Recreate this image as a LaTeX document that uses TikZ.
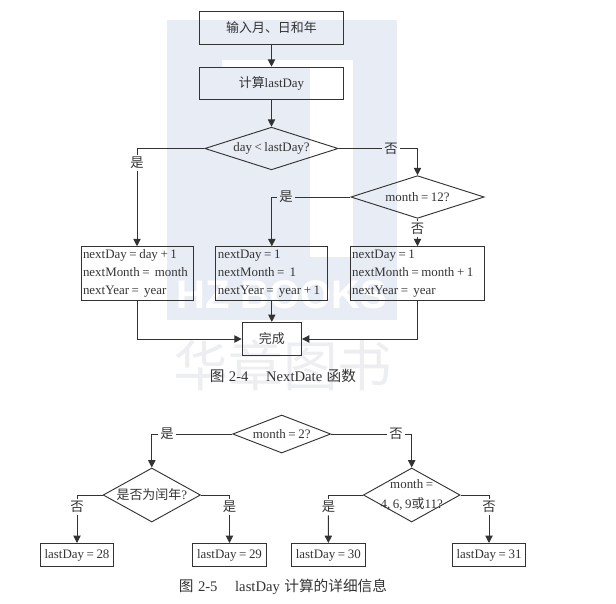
\documentclass[tikz,border=0pt]{standalone}
\usepackage{fontspec}
\setmainfont[WordSpace=0.8]{Liberation Serif}
\setsansfont{Liberation Sans}
\newfontfamily\cjk{Noto Sans CJK SC}
\usetikzlibrary{shapes.geometric,arrows.meta}

\definecolor{inkgray}{HTML}{333333}
\definecolor{markblue}{HTML}{E8ECF5}
\definecolor{markgray}{HTML}{ECEEF1}

\tikzset{
  flowbox/.style={draw=inkgray, rectangle, inner sep=0pt, minimum width=#1},
  decision/.style={draw=inkgray, diamond, inner sep=0pt, align=center},
  branch/.style={inner sep=1.5pt, font=\cjk},
  flow/.style={draw=inkgray, -{Triangle[length=5.5pt,width=5.5pt]}},
  plain/.style={draw=inkgray},
  result/.style={flowbox=#1, minimum height=40.5pt, align=flush left, text width=#1-3pt},
  caption/.style={font=\fontsize{11}{13}\selectfont}
}

\begin{document}
\begin{tikzpicture}[x=0.75pt, y=-0.75pt, font=\fontsize{9.7}{13.5}\selectfont,
    text=inkgray, line width=0.7pt]
    \useasboundingbox (0,0) rectangle (616,603);

    % watermark
    \fill[markblue] (167,20) rectangle (397,320);
    \fill[white] (222,60) rectangle (353,67);
    \fill[white] (310,60) rectangle (353,257);
    \node (marklatin) at (282,295) {\textcolor{white}{\sffamily\bfseries\fontsize{30}{30}\selectfont HZ BOOKS}};
    \node (markcjk) at (283,365) {\textcolor{markgray}{\cjk\fontsize{41}{41}\selectfont 华章图书}};

    % figure 2-4
    \node [flowbox=108pt, minimum height=24.5pt] (input) at (271.5,28) {{\cjk 输入月、日和年}};
    \node [flowbox=108pt, minimum height=24.5pt] (calc) at (271.5,83.5) {{\cjk 计算}lastDay};
    \node [decision, aspect=3.1, minimum width=100pt, minimum height=32pt] (daycheck) at (271.5,148.5) {day < lastDay?};
    \node [decision, aspect=3.1, minimum width=100pt, minimum height=32pt] (monthcheck) at (417.5,197) {month = 12?};

    \node [result=84pt] (nextday) at (137,273.7) {nextDay = day + 1\\nextMonth =\ \ month\\nextYear =\ \ year};
    \node [result=84pt] (nextyear) at (271.8,273.7) {nextDay = 1\\nextMonth =\ \ 1\\nextYear =\ \ year + 1};
    \node [result=101pt] (nextmonth) at (417.5,273.7) {nextDay = 1\\nextMonth = month + 1\\nextYear =\ \ year};
    \node [flowbox=44.5pt, minimum height=25pt] (done) at (271.8,339) {{\cjk 完成}};

    \node [branch] (yesday) at (137,163) {是};
    \node [branch] (noday) at (391,148.5) {否};
    \node [branch] (yesmonth) at (286,197) {是};
    \node [branch] (nomonth) at (417.5,229) {否};

    \draw [flow] (input) -- (calc);
    \draw [flow] (calc) -- (daycheck);
    \draw [plain] (daycheck.west) -| (yesday);
    \draw [flow] (yesday) -- (nextday.north);
    \draw [plain] (daycheck.east) -- (noday);
    \draw [flow] (noday) -| (monthcheck.north);
    \draw [plain] (monthcheck.west) -- (yesmonth);
    \draw [flow] (yesmonth) -| (nextyear.north);
    \draw [plain] (monthcheck.south) -- (nomonth);
    \draw [flow] (nomonth) -- (nextmonth.north);
    \draw [flow] (nextday.south) |- (done.west);
    \draw [flow] (nextyear.south) -- (done.north);
    \draw [flow] (nextmonth.south) |- (done.east);

    \node [caption] (captionnext) at (283,375.7) {{\cjk 图}\hspace{0.3em}2-4\hspace{1.2em}NextDate\hspace{0.3em}{\cjk 函数}};

    % figure 2-5
    \node [decision, aspect=2.58, minimum width=73.5pt, minimum height=28.5pt] (febcheck) at (281.7,434) {month = 2?};
    \node [decision, aspect=1.8, minimum width=73pt, minimum height=40.5pt] (leapcheck) at (151.8,495) {\makebox[0pt]{{\cjk 是否为闰年}?}};
    \node [decision, aspect=1.8, minimum width=72.5pt, minimum height=40.5pt] (shortcheck) at (411.7,495) {\makebox[0pt]{month =}\\[1pt]\makebox[0pt]{4, 6, 9{\cjk 或}11?}};

    \node [flowbox=55pt, minimum height=17.3pt] (last28) at (77,555) {lastDay = 28};
    \node [flowbox=55pt, minimum height=17.3pt] (last29) at (229.5,555) {lastDay = 29};
    \node [flowbox=55pt, minimum height=17.3pt] (last30) at (328.3,555) {lastDay = 30};
    \node [flowbox=55pt, minimum height=17.3pt] (last31) at (489,555) {lastDay = 31};

    \node [branch] (yesfeb) at (167,434) {是};
    \node [branch] (nofeb) at (396,434) {否};
    \node [branch] (noleap) at (77,507) {否};
    \node [branch] (yesleap) at (229.5,507) {是};
    \node [branch] (yesshort) at (328.5,507) {是};
    \node [branch] (noshort) at (489,507) {否};

    \draw [plain] (febcheck.west) -- (yesfeb);
    \draw [flow] (yesfeb) -| (leapcheck.north);
    \draw [plain] (febcheck.east) -- (nofeb);
    \draw [flow] (nofeb) -| (shortcheck.north);
    \draw [plain] (leapcheck.west) -| (noleap);
    \draw [flow] (noleap) -- (last28.north);
    \draw [plain] (leapcheck.east) -| (yesleap);
    \draw [flow] (yesleap) -- (last29.north);
    \draw [plain] (shortcheck.west) -| (yesshort);
    \draw [flow] (yesshort) -- (last30.north);
    \draw [plain] (shortcheck.east) -| (noshort);
    \draw [flow] (noshort) -- (last31.north);

    \node [caption] (captionlast) at (283,586.7) {{\cjk 图}\hspace{0.3em}2-5\hspace{1.2em}lastDay\hspace{0.3em}{\cjk 计算的详细信息}};
\end{tikzpicture}
\end{document}
